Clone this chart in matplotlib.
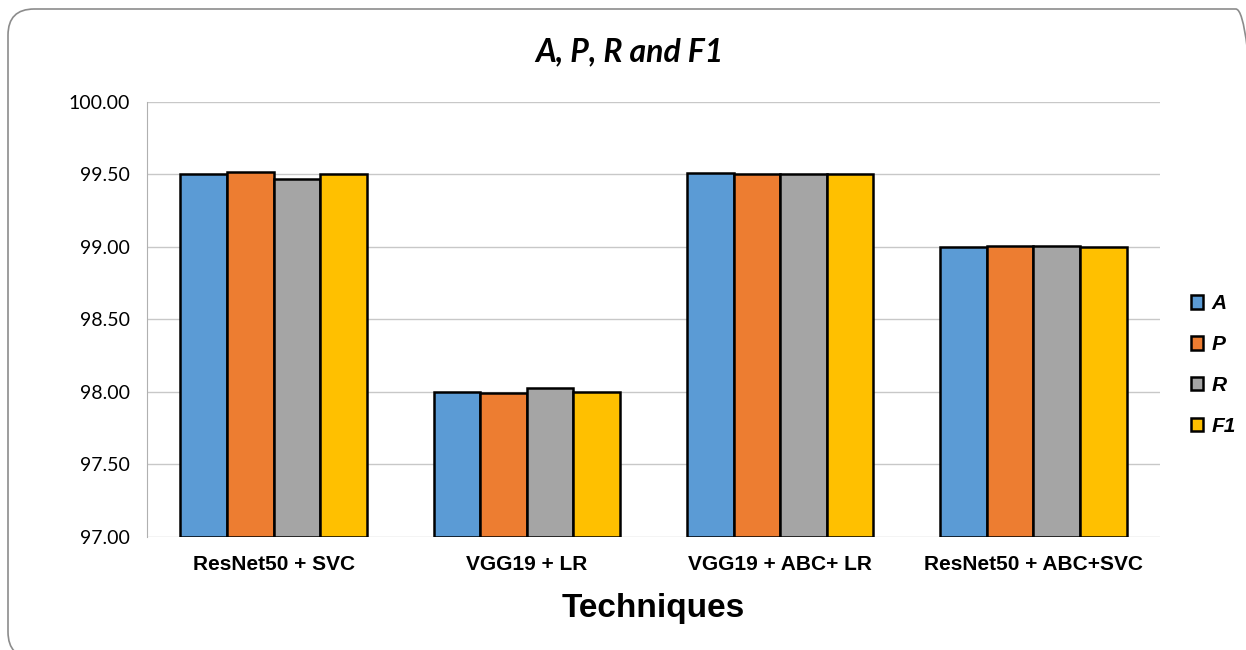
import numpy as np
import matplotlib.pyplot as plt
from matplotlib.patches import FancyBboxPatch

techniques = ['ResNet50 + SVC', 'VGG19 + LR', 'VGG19 + ABC+ LR', 'ResNet50 + ABC+SVC']
metrics = ['A', 'P', 'R', 'F1']
acc = [99.50, 98.00, 99.51, 99.00]
prec = [99.52, 97.99, 99.50, 99.01]
rec = [99.47, 98.03, 99.50, 99.01]
f1 = [99.50, 98.00, 99.50, 99.00]
colors = ['#5B9BD5', '#ED7D31', '#A5A5A5', '#FFC000']

fig = plt.figure(figsize=(12.46, 6.5), dpi=100)
ax = fig.add_axes([147 / 1246, 1 - 537 / 650, (1160 - 147) / 1246, (537 - 102) / 650])

# rounded outer frame (runs past the right and bottom edges, as in the original)
frame = FancyBboxPatch((8 / 1246, -8 / 650), 1254 / 1246, 649 / 650,
                       boxstyle='round,pad=0,rounding_size=0.021',
                       transform=fig.transFigure, fill=False,
                       edgecolor='#8c8c8c', linewidth=1.2, mutation_aspect=1246 / 650)
fig.patches.append(frame)

x = np.arange(len(techniques))
w = 0.184
series = [acc, prec, rec, f1]
for i, vals in enumerate(series):
    ax.bar(x + (i - 1.5) * w, np.array(vals) - 97, w, bottom=97, color=colors[i],
           edgecolor='black', linewidth=1.8, label=metrics[i], zorder=3)

ax.set_xlim(-0.5, 3.5)
ax.set_ylim(97, 100)
yt = np.arange(97, 100.01, 0.5)
ax.set_yticks(yt)
ax.set_yticklabels(['%.2f' % v for v in yt], fontsize=14, family='Lato')
ax.set_xticks(x)
ax.set_xticklabels(techniques, fontsize=15, fontweight='bold', family='Liberation Sans')
ax.grid(axis='y', color='#c8c8c8', linewidth=1)
ax.tick_params(axis='y', length=0, pad=12)
ax.tick_params(axis='x', length=0, pad=13)
for s in ['top', 'right', 'bottom']:
    ax.spines[s].set_visible(False)
ax.spines['left'].set_color('#b0b0b0')
ax.set_axisbelow(True)

ax.set_xlabel('Techniques', fontsize=24, fontweight='bold', family='Liberation Sans', labelpad=14)
fig.text(0.505, 1 - 52 / 650, 'A, P, R and F1', fontsize=23, fontweight='bold', fontstyle='italic',
         family='Lato', ha='center', va='center')

leg = ax.legend(loc='center left', bbox_to_anchor=(1.012, 0.395), frameon=False,
                prop={'family': 'Liberation Sans', 'weight': 'bold', 'style': 'italic', 'size': 15},
                handlelength=0.6, handleheight=0.6, handletextpad=0.4, labelspacing=1.05)

fig.savefig('out.png', dpi=100)
